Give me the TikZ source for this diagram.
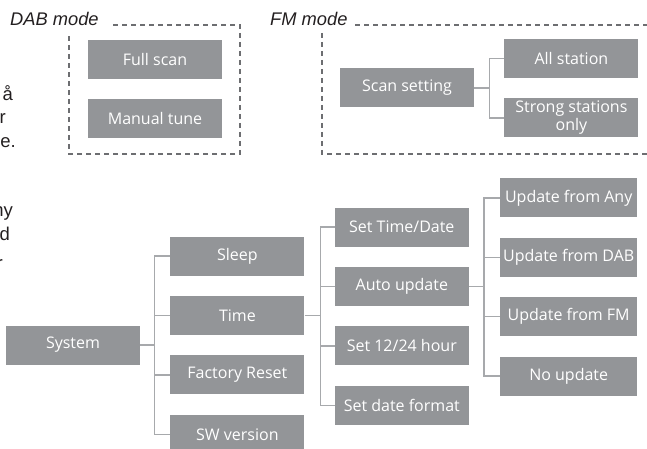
\documentclass[tikz,border=0pt]{standalone}
\usepackage{fontspec}
\setmainfont{Open Sans}
\newfontfamily\helv{Liberation Sans}
\usetikzlibrary{positioning}

\definecolor{boxgray}{HTML}{939598}
\definecolor{linegray}{HTML}{A7A9AC}
\definecolor{framegray}{HTML}{6D6E71}
\definecolor{textdark}{HTML}{231F20}

\begin{document}
\begin{tikzpicture}[x=1pt, y=-1pt,
	menubox/.style={
		fill = boxgray,
		text = white,
		minimum width = 134pt,
		minimum height = 39pt,
		inner sep = 0pt,
		align = center,
		font = \fontsize{16}{18}\selectfont
	},
	wide menubox/.style={menubox, minimum width = 137pt},
	bus/.style={draw = linegray, line width = 1.4pt},
	mode frame/.style={draw = framegray, line width = 1.1pt, dash pattern = on 5pt off 4pt},
	mode label/.style={
		font = \helv\itshape\fontsize{18.3}{18.3}\selectfont,
		text = textdark,
		inner sep = 0pt,
		anchor = base west
	},
	cut text/.style={
		font = \helv\fontsize{18.5}{18.5}\selectfont,
		text = textdark,
		inner sep = 0pt,
		anchor = base east
	},
	]

	\useasboundingbox (0,0) rectangle (647,449);

	\node[cut text] (frag1) at (13,101) {å};
	\node[cut text] (frag2) at (6,124) {r};
	\node[cut text] (frag3) at (16,148) {e.};
	\node[cut text] (frag4) at (13,216) {ny};
	\node[cut text] (frag5) at (10,240) {d};
	\node[cut text] (frag6) at (3,269) {r};

	% DAB mode
	\node[mode label] (dablabel) at (10,26) {DAB mode};
	\node[menubox] (fullscan) at (155,59.5) {Full scan};
	\node[menubox, below=20pt of fullscan] (manual) {Manual tune};
	\draw[mode frame] (113,25) -- (240,25) -- (240,154) -- (69,154) -- (69,33);

	% FM mode
	\node[mode label] (fmlabel) at (270,26) {FM mode};
	\node[menubox] (scanset) at (407,88) {Scan setting};
	\node[menubox, right=30pt of scanset, yshift=29.5pt] (allst) {All station};
	\node[menubox, below=20pt of allst] (strong) {Strong stations\\only};
	\draw[mode frame] (355,25) -- (660,25);
	\draw[mode frame] (322,33) -- (322,154) -- (660,154);

	\draw[bus] (scanset.east) -- ++(15pt,0);
	\draw[bus] (allst.west) -- ++(-15pt,0) |- (strong.west);

	% System menu
	\node[menubox] (system) at (73,345) {System};
	\node[menubox, right=30pt of system, yshift=29.5pt] (time) {Time};
	\node[menubox, above=20pt of time] (sleep) {Sleep};
	\node[menubox, below=20pt of time] (factory) {Factory Reset};
	\node[menubox, below=20pt of factory] (swver) {SW version};

	\node[menubox, right=30pt of time, yshift=88.5pt] (settime) {Set Time/Date};
	\node[menubox, below=20pt of settime] (autoupd) {Auto update};
	\node[menubox, below=20pt of autoupd] (set1224) {Set 12/24 hour};
	\node[menubox, below=20pt of set1224] (datefmt) {Set date format};

	\node[wide menubox, right=31pt of autoupd, yshift=88.5pt] (updany) {Update from Any};
	\node[wide menubox, below=20pt of updany] (upddab) {Update from DAB};
	\node[wide menubox, below=20pt of upddab] (updfm) {Update from FM};
	\node[wide menubox, below=20pt of updfm] (noupd) {No update};

	\draw[bus] (system.east) -- ++(14pt,0);
	\draw[bus] (sleep.west) -- ++(-16pt,0) |- (swver.west);
	\foreach \n in {time,factory}
		\draw[bus] (\n.west) -- ++(-16pt,0);

	\draw[bus] (time.east) -- ++(16pt,0);
	\draw[bus] (settime.west) -- ++(-14pt,0) |- (datefmt.west);
	\foreach \n in {autoupd,set1224}
		\draw[bus] (\n.west) -- ++(-14pt,0);

	\draw[bus] (autoupd.east) -- ++(15pt,0);
	\draw[bus] (updany.west) -- ++(-16pt,0) |- (noupd.west);
	\foreach \n in {upddab,updfm}
		\draw[bus] (\n.west) -- ++(-16pt,0);

\end{tikzpicture}
\end{document}
